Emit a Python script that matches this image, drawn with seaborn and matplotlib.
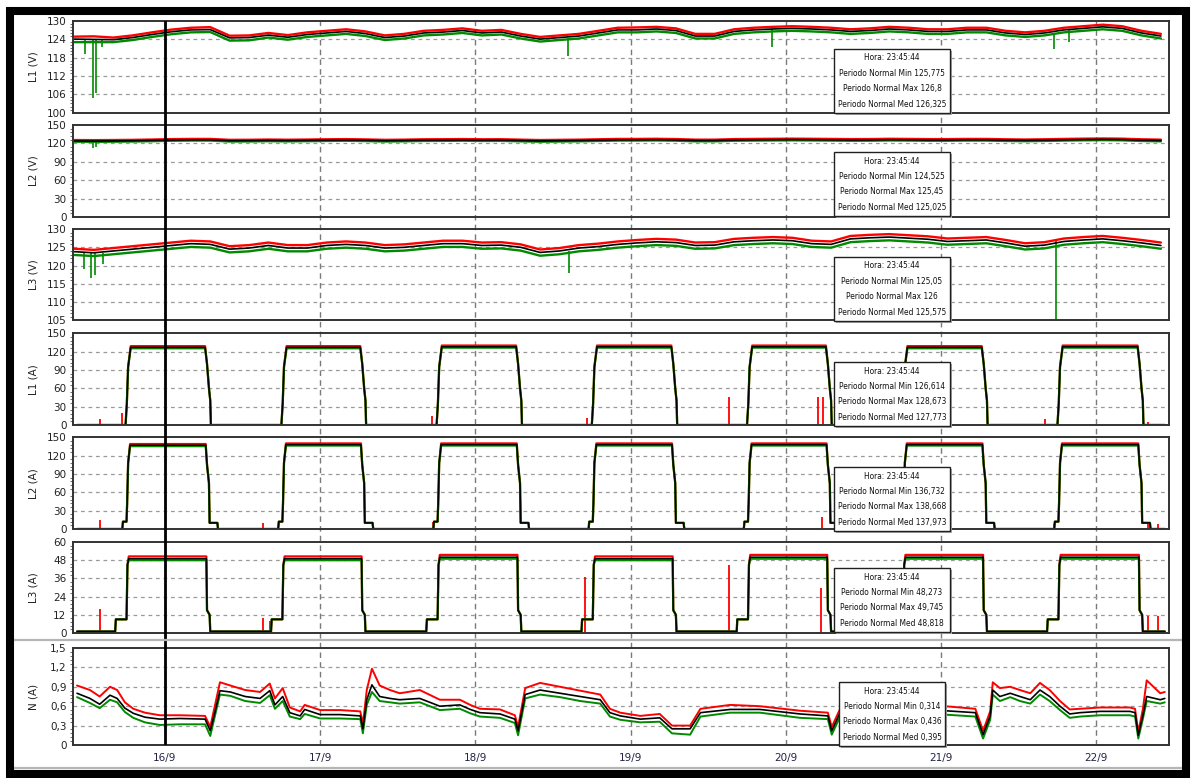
import numpy as np
import pandas as pd
import matplotlib
matplotlib.use("Agg")
import matplotlib.pyplot as plt
import matplotlib.dates as mdates
from matplotlib import font_manager
from matplotlib.patches import Rectangle
from matplotlib.lines import Line2D
from matplotlib.ticker import AutoMinorLocator, FuncFormatter
import seaborn as sns

sns.set_theme(style="white")

# pick a narrow face if one is installed, otherwise plain Liberation Sans
narrow = None
for f in font_manager.fontManager.ttflist:
    if ("Narrow" in f.name or "Condensed" in f.name or f.stretch in ("condensed", "semi-condensed")) \
            and f.style == "normal" and f.weight in (400, "normal", "regular"):
        narrow = f.name
        break
plt.rcParams["font.family"] = ([narrow] if narrow else []) + ["Liberation Sans", "DejaVu Sans"]
box_family = ([narrow] if narrow else []) + ["Roboto", "Liberation Sans", "DejaVu Sans"]

base = pd.Timestamp("2015-09-16 00:00")

# ---- voltage panels: 3-hourly readings, hours from 16/9 00:00
hours_v = list(range(-14, 155, 3))

v1_med = [124.0,123.9,123.8,124.5,125.5,126.4,127.0,127.1,124.4,124.5,125.3,124.6,125.5,126.0,126.5,125.8,124.5,125.0,126.0,126.3,
          126.8,126.0,126.3,125.0,124.0,124.5,125.0,126.0,127.0,127.0,127.3,126.8,125.0,125.0,126.5,127.0,127.3,127.5,127.3,127.0,
          126.5,126.8,127.3,127.0,126.5,126.5,127.0,127.0,126.0,125.5,126.0,127.0,127.5,128.0,127.5,126.0,125.0]
v1_max = [124.8,124.9,124.5,125.2,126.2,127.1,127.7,127.9,125.1,125.2,126.0,125.3,126.2,126.7,127.2,126.5,125.2,125.7,126.7,127.0,
          127.5,126.7,127.0,125.7,124.7,125.2,125.7,126.7,127.7,127.8,128.0,127.5,125.7,125.7,127.2,127.7,128.0,128.2,128.0,127.7,
          127.2,127.5,128.0,127.7,127.2,127.2,127.7,127.7,126.7,126.2,126.7,127.7,128.2,128.7,128.2,126.7,125.7]
v1_min = [123.0,123.0,123.0,123.7,124.7,125.6,126.2,126.3,123.5,123.6,124.5,123.8,124.7,125.2,125.7,125.0,123.7,124.2,125.2,125.5,
          126.0,125.2,125.5,124.2,123.2,123.7,124.2,125.2,126.2,126.2,126.5,126.0,124.2,124.2,125.7,126.2,126.5,126.7,126.5,126.2,
          125.7,126.0,126.5,126.2,125.7,125.7,126.2,126.2,125.2,124.7,125.2,126.2,126.7,127.2,126.7,125.2,124.2]
v1_dip_t = [-12.4, -11.1, -10.6, -9.8, 62.3, 93.9, 137.4, 139.8]
v1_dip_v = [119.0, 104.8, 106.5, 121.5, 118.5, 121.5, 120.8, 123.0]

v2_med = [124.0,123.8,124.0,124.3,124.8,125.5,125.8,125.8,124.3,124.4,124.8,124.5,124.8,125.2,125.5,125.0,124.3,124.6,125.2,125.3,
          125.6,125.2,125.3,124.6,124.0,124.3,124.6,125.2,125.8,125.8,126.0,125.6,124.6,124.6,125.5,125.8,126.0,126.2,126.0,125.8,
          125.5,125.6,126.0,125.8,125.5,125.5,125.8,125.8,125.2,124.8,125.2,125.8,126.2,126.5,126.2,125.2,124.6]
v2_max = [125.5,125.3,125.5,125.8,126.3,127.0,127.3,127.3,125.8,125.9,126.3,126.0,126.3,126.7,127.0,126.5,125.8,126.1,126.7,126.8,
          127.1,126.7,126.8,126.1,125.5,125.8,126.1,126.7,127.3,127.3,127.5,127.1,126.1,126.1,127.0,127.3,127.5,127.7,127.5,127.3,
          127.0,127.1,127.5,127.3,127.0,127.0,127.3,127.3,126.7,126.3,126.7,127.3,127.7,128.0,127.7,126.7,126.1]
v2_min = [122.8,122.6,122.8,123.1,123.6,124.3,124.6,124.6,123.1,123.2,123.6,123.3,123.6,124.0,124.3,123.8,123.1,123.4,124.0,124.1,
          124.4,124.0,124.1,123.4,122.8,123.1,123.4,124.0,124.6,124.6,124.8,124.4,123.4,123.4,124.3,124.6,124.8,125.0,124.8,124.6,
          124.3,124.4,124.8,124.6,124.3,124.3,124.6,124.6,124.0,123.6,124.0,124.6,125.0,125.3,125.0,124.0,123.4]
v2_dip_t = [-11.2, -10.6]
v2_dip_v = [112.0, 114.0]

v3_med = [123.8,123.5,124.0,124.5,125.0,125.5,126.0,125.8,124.5,124.8,125.5,124.8,124.8,125.5,125.8,125.5,124.8,125.0,125.5,126.0,
          126.0,125.5,125.6,125.0,123.6,124.0,124.8,125.2,125.8,126.2,126.5,126.3,125.5,125.6,126.5,126.8,127.0,126.8,126.0,125.8,
          127.3,127.6,127.8,127.5,127.2,126.6,126.8,127.0,126.2,125.3,125.6,126.6,127.0,127.3,126.8,126.2,125.5]
v3_max = [124.6,124.3,124.8,125.3,125.8,126.3,126.8,126.6,125.3,125.6,126.3,125.6,125.6,126.3,126.6,126.3,125.6,125.8,126.3,126.8,
          126.8,126.3,126.4,125.8,124.4,124.8,125.6,126.0,126.6,127.0,127.3,127.1,126.3,126.4,127.3,127.6,127.8,127.6,126.8,126.6,
          128.1,128.4,128.6,128.3,128.0,127.4,127.6,127.8,127.0,126.1,126.4,127.4,127.8,128.1,127.6,127.0,126.3]
v3_min = [122.9,122.6,123.1,123.6,124.1,124.6,125.1,124.9,123.6,123.9,124.6,123.9,123.9,124.6,124.9,124.6,123.9,124.1,124.6,125.1,
          125.1,124.6,124.7,124.1,122.7,123.1,123.9,124.3,124.9,125.3,125.6,125.4,124.6,124.7,125.6,125.9,126.1,125.9,125.1,124.9,
          126.4,126.7,126.9,126.6,126.3,125.7,125.9,126.1,125.3,124.4,124.7,125.7,126.1,126.4,125.9,125.3,124.6]
v3_dip_t = [-12.6, -11.4, -10.8, -9.6, 62.5, 137.8]
v3_dip_v = [119.0, 116.5, 117.5, 120.5, 118.0, 105.0]

# ---- current panels: lighting switched on in the evening, off in the morning
pulse_on = [-5.9, 18.2, 42.2, 66.2, 90.2, 114.2, 138.2]
pulse_off = [6.5, 30.5, 54.6, 78.6, 102.5, 126.6, 150.7]

a1_med = [127, 127, 128, 128, 128, 127, 128]
a1_max = [129, 129, 130, 130, 130, 129, 130]
a1_min = [125.5, 125.5, 126.5, 126.5, 126.5, 125.5, 126.5]
a1_rise_dt, a1_rise_lv = [-0.2, 0.0, 0.2, 0.6], [0, 35, 95, None]
a1_fall_dt, a1_fall_lv = [-0.3, 0.0, 0.3, 0.5, 0.6], [None, 100, 60, 40, 0]
a1_spk_t = [-10.1, -6.6, 41.3, 65.3, 87.2, 101.0, 101.7, 136.1, 152.0]
a1_spk_v = [10, 20, 15, 12, 46, 45, 45, 10, 5]

a2_med = [137, 138, 138, 138, 138, 138, 138]
a2_max = [139, 140, 140, 140, 140, 140, 140]
a2_min = [135.5, 136.5, 136.5, 136.5, 136.5, 136.5, 136.5]
a2_rise_dt, a2_rise_lv = [-0.7, -0.6, -0.05, 0.05, 0.2, 0.5], [0, 12, 12, 42, 108, None]
a2_fall_dt, a2_fall_lv = [-0.2, 0.0, 0.3, 0.4, 1.6, 1.7], [None, 105, 75, 10, 10, 0]
a2_spk_t = [-10.1, 15.1, 41.5, 65.5, 101.6, 137.5, 152.0, 153.5]
a2_spk_v = [15, 10, 12, 10, 20, 8, 10, 8]

a3_med = [49, 49, 50, 49, 50, 50, 50]
a3_max = [50.5, 50.5, 51.5, 50.5, 51.5, 51.5, 51.5]
a3_min = [48, 48, 49, 48, 49, 49, 49]
a3_rise_dt, a3_rise_lv = [-1.8, -1.7, -0.05, 0.1, 0.3], [1, 9, 9, 45, None]
a3_fall_dt, a3_fall_lv = [-0.1, 0.0, 0.4, 0.5], [None, 15, 12, 1]
a3_spk_t = [-10.1, 15.1, 16.3, 65.0, 87.2, 101.5, 152.0, 153.5]
a3_spk_v = [16, 10, 8, 37, 45, 30, 11, 11]

# ---- neutral current
n_t = [-13.6,-11.6,-10.1,-8.5,-7.4,-6.2,-4.9,-3.1,-0.8,2.3,6.2,7.0,7.7,8.5,10.1,12.4,14.7,16.2,17.0,18.2,
       19.3,20.9,21.6,24.0,27.1,30.2,30.6,31.2,32.0,33.2,34.8,36.3,39.4,42.5,45.6,47.2,48.7,51.8,54.1,54.6,
       55.7,58.0,61.1,64.2,67.3,68.8,70.4,73.5,76.5,78.4,81.2,82.8,87.4,92.0,98.2,102.5,103.1,104.4,107.5,112.1,
       116.7,120.6,125.3,126.5,127.6,128.0,129.1,130.7,132.2,133.8,135.3,136.8,138.4,139.9,141.5,144.6,149.2,150.0,150.5,151.2,
       151.8,153.9,154.6]
n_med = [0.80,0.72,0.63,0.77,0.72,0.57,0.49,0.43,0.40,0.41,0.40,0.22,0.50,0.84,0.82,0.75,0.72,0.84,0.62,0.75,
         0.50,0.45,0.55,0.47,0.47,0.45,0.25,0.70,0.93,0.75,0.72,0.70,0.72,0.60,0.62,0.55,0.50,0.48,0.40,0.22,
         0.78,0.85,0.80,0.75,0.70,0.50,0.45,0.40,0.42,0.25,0.25,0.50,0.55,0.55,0.48,0.45,0.22,0.50,0.52,0.50,
         0.52,0.53,0.50,0.16,0.45,0.85,0.75,0.80,0.75,0.70,0.85,0.75,0.60,0.48,0.50,0.52,0.52,0.50,0.15,0.45,
         0.75,0.70,0.72]
n_max = [0.92,0.85,0.75,0.90,0.85,0.66,0.56,0.50,0.46,0.46,0.45,0.28,0.60,0.97,0.92,0.85,0.82,0.95,0.72,0.88,
         0.58,0.52,0.62,0.54,0.54,0.52,0.32,0.85,1.18,0.92,0.85,0.80,0.85,0.70,0.70,0.62,0.56,0.55,0.46,0.28,
         0.88,0.96,0.90,0.84,0.78,0.56,0.50,0.45,0.48,0.30,0.30,0.56,0.62,0.60,0.53,0.50,0.28,0.56,0.58,0.56,
         0.58,0.60,0.56,0.22,0.52,0.97,0.88,0.90,0.85,0.80,0.96,0.85,0.68,0.55,0.56,0.58,0.58,0.56,0.20,0.55,
         1.00,0.80,0.82]
n_min = [0.74,0.65,0.57,0.70,0.66,0.51,0.42,0.35,0.31,0.32,0.32,0.14,0.44,0.78,0.76,0.68,0.65,0.77,0.56,0.68,
         0.44,0.40,0.48,0.41,0.41,0.40,0.18,0.62,0.82,0.68,0.66,0.64,0.66,0.54,0.56,0.49,0.44,0.42,0.34,0.15,
         0.72,0.78,0.74,0.68,0.64,0.44,0.39,0.35,0.36,0.18,0.16,0.44,0.50,0.50,0.42,0.40,0.16,0.44,0.46,0.44,
         0.46,0.47,0.44,0.10,0.39,0.78,0.68,0.74,0.68,0.64,0.78,0.68,0.54,0.42,0.44,0.46,0.46,0.44,0.10,0.40,
         0.68,0.64,0.66]

hora = "Hora: 23:45:44"
box_stats = [
    ("125,775", "126,8", "126,325"),
    ("124,525", "125,45", "125,025"),
    ("125,05", "126", "125,575"),
    ("126,614", "128,673", "127,773"),
    ("136,732", "138,668", "137,973"),
    ("48,273", "49,745", "48,818"),
    ("0,314", "0,436", "0,395"),
]
ylabels = ["L1 (V)", "L2 (V)", "L3 (V)", "L1 (A)", "L2 (A)", "L3 (A)", "N (A)"]
ylims = [(100, 130), (0, 150), (105, 130), (0, 150), (0, 150), (0, 60), (0, 1.5)]
ysteps = [6, 30, 5, 30, 30, 12, 0.3]

t_start, t_end = -13.6, 154.6
x_left, x_right = -14.27, 155.25


def to_dt(hours):
    return base + pd.to_timedelta(np.asarray(hours, dtype=float), unit="h")


def pulse_series(levels, rise_dt, rise_lv, fall_dt, fall_lv, base_lv):
    t, v = [t_start], [base_lv]
    for a, b, lv in zip(pulse_on, pulse_off, levels):
        for d, r in zip(rise_dt, rise_lv):
            t.append(a + d)
            v.append(lv if r is None else r)
        for d, r in zip(fall_dt, fall_lv):
            t.append(b + d)
            v.append(lv if r is None else r)
    t.append(t_end)
    v.append(base_lv)
    return t, v


W, H = 1193, 778
fig = plt.figure(figsize=(W / 100, H / 100), dpi=100)
fig.patch.set_facecolor("white")

# panel extents in pixels (top, bottom)
rows = [(20.7, 112.7), (125, 217), (229, 320.5), (333.3, 425), (437.3, 529), (542, 633), (648, 745)]
ax_l, ax_r = 72.7, 1169


def fig_rect(top, bottom):
    return [ax_l / W, 1 - bottom / H, (ax_r - ax_l) / W, (bottom - top) / H]


back = fig.add_axes(fig_rect(20.7, 745), zorder=0)
axes = []
for i, (top, bottom) in enumerate(rows):
    ax = fig.add_axes(fig_rect(top, bottom), sharex=back, zorder=1)
    ax.set_facecolor("none")
    axes.append(ax)
front = fig.add_axes(fig_rect(20.7, 745), sharex=back, zorder=3)

RED, GREEN, BLACK = "#ff0000", "#008a00", "#000000"
kw = dict(estimator=None, sort=False, legend=False)

# voltages
tv = to_dt(hours_v)
for ax, mx, mn, md, dt_, dv in [
    (axes[0], v1_max, v1_min, v1_med, v1_dip_t, v1_dip_v),
    (axes[1], v2_max, v2_min, v2_med, v2_dip_t, v2_dip_v),
    (axes[2], v3_max, v3_min, v3_med, v3_dip_t, v3_dip_v),
]:
    sns.lineplot(x=tv, y=mx, ax=ax, color=RED, linewidth=1.7, **kw)
    sns.lineplot(x=tv, y=mn, ax=ax, color=GREEN, linewidth=1.7, **kw)
    idx = [int(np.argmin(np.abs(np.array(hours_v) - t))) for t in dt_]
    ax.vlines(to_dt(dt_), [md[j] for j in idx], dv, color=GREEN, linewidth=1.2)
    sns.lineplot(x=tv, y=md, ax=ax, color=BLACK, linewidth=1.2, **kw)

# currents
for ax, lv_max, lv_min, lv_med, rdt, rlv, fdt, flv, base_lv, st, sv in [
    (axes[3], a1_max, a1_min, a1_med, a1_rise_dt, a1_rise_lv, a1_fall_dt, a1_fall_lv, 0, a1_spk_t, a1_spk_v),
    (axes[4], a2_max, a2_min, a2_med, a2_rise_dt, a2_rise_lv, a2_fall_dt, a2_fall_lv, 0, a2_spk_t, a2_spk_v),
    (axes[5], a3_max, a3_min, a3_med, a3_rise_dt, a3_rise_lv, a3_fall_dt, a3_fall_lv, 1, a3_spk_t, a3_spk_v),
]:
    t, v = pulse_series(lv_max, rdt, rlv, fdt, flv, base_lv)
    sns.lineplot(x=to_dt(t), y=v, ax=ax, color=RED, linewidth=1.6, **kw)
    ax.vlines(to_dt(st), 0, sv, color=RED, linewidth=1.3)
    t, v = pulse_series(lv_min, rdt, rlv, fdt, flv, base_lv)
    sns.lineplot(x=to_dt(t), y=v, ax=ax, color=GREEN, linewidth=1.6, **kw)
    t, v = pulse_series(lv_med, rdt, rlv, fdt, flv, base_lv)
    sns.lineplot(x=to_dt(t), y=v, ax=ax, color=BLACK, linewidth=1.1, **kw)

# neutral
tn = to_dt(n_t)
sns.lineplot(x=tn, y=n_max, ax=axes[6], color=RED, linewidth=1.4, **kw)
sns.lineplot(x=tn, y=n_min, ax=axes[6], color=GREEN, linewidth=1.4, **kw)
sns.lineplot(x=tn, y=n_med, ax=axes[6], color=BLACK, linewidth=1.2, **kw)

days = to_dt([0, 24, 48, 72, 96, 120, 144])
back.set_ylim(0, 1)
back.axis("off")
for d in days:
    back.axvline(d, color="#7a7a7a", linewidth=1.0, linestyle=(0, (4, 3)))
front.set_ylim(0, 1)
front.axis("off")
front.axvline(days[0], color="black", linewidth=2.0)

day_fmt = FuncFormatter(lambda x, pos: f"{mdates.num2date(x).day}/{mdates.num2date(x).month}")
comma_fmt = FuncFormatter(lambda v, p: "0" if abs(v) < 1e-9 else f"{v:.1f}".replace(".", ","))
for i, ax in enumerate(axes):
    lo, hi = ylims[i]
    ax.set_ylim(lo, hi)
    ticks = np.arange(lo, hi + ysteps[i] / 2, ysteps[i])
    ax.set_yticks(ticks)
    ax.yaxis.set_minor_locator(AutoMinorLocator(6 if i == 0 else 5))
    if i == 6:
        ax.yaxis.set_major_formatter(comma_fmt)
    ax.grid(False)
    for y in ticks[1:-1]:
        ax.axhline(y, color="#9a9a9a", linewidth=0.9, linestyle=(0, (3, 3)), zorder=0)
    ax.xaxis.set_major_locator(mdates.DayLocator())
    ax.xaxis.set_minor_locator(mdates.HourLocator(byhour=[6, 12, 18]))
    ax.xaxis.set_major_formatter(day_fmt)
    ax.tick_params(axis="x", which="both", direction="out", length=4, width=0.8, colors="#333333",
                   labelbottom=(i == 6), labelsize=7.5, labelcolor="#222244", pad=2)
    ax.tick_params(axis="y", which="major", direction="out", length=3, width=0.8, colors="#333333",
                   labelsize=7.5, labelcolor="#222222", pad=1.5)
    ax.tick_params(axis="y", which="minor", direction="out", length=2, width=0.6, colors="#555555", left=True)
    for s in ax.spines.values():
        s.set_visible(True)
        s.set_color("#333333")
        s.set_linewidth(1.4)
    ax.set_xlabel("")
    ax.set_ylabel(ylabels[i], fontsize=7.5, color="#222222")
    ax.yaxis.set_label_coords(-(ax_l - 38) / (ax_r - ax_l), 0.5)

back.set_xlim(to_dt([x_left])[0], to_dt([x_right])[0])


def fx(x):
    return x / W


def fy(y):
    return 1 - y / H


# info boxes
box_tops = [49, 152, 257, 362, 467, 568, 682]
box_texts = []
for i, (top, (mn, mx, md)) in enumerate(zip(box_tops, box_stats)):
    x0, x1 = (834, 950) if i < 6 else (839, 945)
    h = 64
    fig.patches.append(Rectangle((fx(x0 + 2), fy(top + h + 2)), (x1 - x0) / W, h / H, transform=fig.transFigure,
                                 facecolor="#a8a8a8", edgecolor="none", zorder=5))
    fig.patches.append(Rectangle((fx(x0), fy(top + h)), (x1 - x0) / W, h / H, transform=fig.transFigure,
                                 facecolor="white", edgecolor="#202020", linewidth=1.0, zorder=6))
    lines = [hora, f"Periodo Normal Min {mn}", f"Periodo Normal Max {mx}", f"Periodo Normal Med {md}"]
    for k, s in enumerate(lines):
        box_texts.append(fig.text(fx((x0 + x1) / 2), fy(top + 9 + 15.4 * k), s, ha="center", va="center",
                                  fontsize=8, family=box_family, color="#111111", zorder=7))

# shrink the box text so the longest line fits the box as in the original
renderer = fig.canvas.get_renderer()
widest = max(t.get_window_extent(renderer).width for t in box_texts)
scale = min(1.0, 110 / widest)
for t in box_texts:
    t.set_fontsize(8 * scale)

# separators and frame
for y in (639.5, 768):
    fig.lines.append(Line2D([fx(14), fx(1183)], [fy(y), fy(y)], transform=fig.transFigure,
                            color="#b5b5b5", linewidth=1.6, zorder=4))
fig.patches.append(Rectangle((fx(10), fy(774)), (1186 - 10) / W, (774 - 10.5) / H, transform=fig.transFigure,
                             fill=False, edgecolor="black", linewidth=5.8, zorder=8))

fig.savefig("out.png", dpi=100)
